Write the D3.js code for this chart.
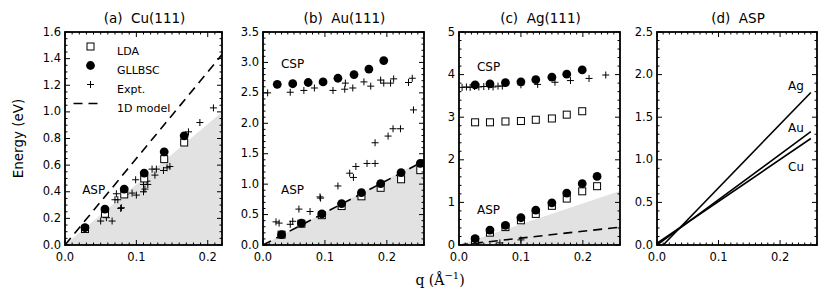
<!DOCTYPE html>
<html><head><meta charset="utf-8">
<script src="https://cdn.jsdelivr.net/npm/d3@7"></script>
<style>body{margin:0;background:#fff} text{font-family:"DejaVu Sans",sans-serif;fill:#000;white-space:pre}</style>
</head><body><svg id="c" width="830" height="301"></svg>
<script>
// ---------- data ----------
const titles = ["(a)  Cu(111)", "(b)  Au(111)", "(c)  Ag(111)", "(d)  ASP"];
const legendLabels = ["LDA", "GLLBSC", "Expt.", "1D model"];

// Cu(111)
const cuQ = [0.028, 0.056, 0.083, 0.111, 0.139, 0.167];
const cuGLLBSC = [0.13, 0.27, 0.42, 0.54, 0.70, 0.82];
const cuLDA = [0.12, 0.235, 0.38, 0.50, 0.645, 0.77];
const cuExpt = [[0.050,0.18],[0.058,0.205],[0.066,0.18],[0.070,0.34],[0.074,0.34],[0.078,0.275],[0.079,0.28],
  [0.072,0.385],[0.084,0.38],[0.094,0.39],[0.100,0.375],[0.110,0.40],[0.112,0.42],[0.099,0.49],[0.110,0.455],
  [0.116,0.455],[0.115,0.48],[0.122,0.57],[0.128,0.57],[0.126,0.525],[0.138,0.56],[0.143,0.58],[0.147,0.59],
  [0.173,0.85],[0.189,0.92],[0.208,1.03]];
const cuModel = [[0, 0], [0.22, 1.43]];
const cuContinuum = [[0, 0], [0.22, 1.0]];

// Au(111)
const auQ = [0.030, 0.062, 0.095, 0.127, 0.159, 0.190, 0.223, 0.254];
const auGLLBSC = [0.17, 0.36, 0.51, 0.68, 0.86, 1.01, 1.19, 1.34];
const auLDA = [0.17, 0.35, 0.49, 0.64, 0.80, 0.94, 1.08, 1.23];
const auCspQ = [0.023, 0.048, 0.073, 0.097, 0.121, 0.147, 0.171, 0.195];
const auCspGLLBSC = [2.64, 2.65, 2.67, 2.68, 2.74, 2.80, 2.89, 3.03];
const auExpt = [[0.0075,2.5],[0.044,2.51],[0.066,2.54],[0.083,2.58],[0.113,2.54],[0.132,2.56],[0.133,2.66],
  [0.145,2.58],[0.163,2.68],[0.174,2.61],[0.190,2.71],[0.195,2.66],[0.206,2.66],[0.211,2.73],[0.235,2.67],
  [0.241,2.74],[0.243,2.22],[0.181,1.68],[0.202,1.79],[0.210,1.91],[0.222,1.91],
  [0.021,0.38],[0.026,0.36],[0.044,0.34],[0.048,0.39],[0.058,0.59],[0.076,0.55],[0.092,0.79],[0.093,0.77],
  [0.121,0.97],[0.140,1.18],[0.146,1.11],[0.150,1.29],[0.168,1.34],[0.181,1.34]];
const auModel = [[0, 0], [0.26, 1.38]];
const auContinuum = [[0, 0], [0.26, 1.40]];

// Ag(111)
const agQ = [0.026, 0.050, 0.075, 0.100, 0.124, 0.150, 0.174, 0.199, 0.223];
const agGLLBSC = [0.15, 0.35, 0.46, 0.64, 0.82, 0.99, 1.22, 1.44, 1.61];
const agLDA = [0.115, 0.29, 0.42, 0.58, 0.73, 0.92, 1.09, 1.26, 1.38];
const agCspQ = [0.026, 0.050, 0.075, 0.100, 0.124, 0.150, 0.174, 0.199];
const agCspGLLBSC = [3.76, 3.78, 3.81, 3.83, 3.88, 3.94, 4.01, 4.11];
const agCspLDA = [2.88, 2.88, 2.90, 2.91, 2.94, 2.97, 3.06, 3.14];
const agExpt = [[0.005,3.70],[0.012,3.71],[0.018,3.70],[0.025,3.72],[0.032,3.71],[0.040,3.72],[0.048,3.72],
  [0.055,3.71],[0.063,3.73],[0.070,3.73],[0.100,3.76],[0.127,3.77],[0.155,3.82],[0.180,3.86],[0.210,3.91],[0.237,3.99],
  [0.066,0.05],[0.100,0.12]];
const agModel = [[0, 0], [0.26, 0.42]];
const agContinuum = [[0, 0], [0.26, 1.27]];

// ASP comparison
const aspLabels = ["Ag", "Au", "Cu"];
const aspLines = [[[0.010, 0], [0.25, 1.79]], [[0, 0], [0.25, 1.33]], [[0, 0.02], [0.25, 1.25]]];
const aspLabelPos = [[0.213, 1.86], [0.213, 1.37], [0.213, 0.915]];

// ---------- drawing ----------
const svg = d3.select("#c");
const yTop = 32, yBottom = 245;

const panels = [
  {left: 65, right: 222, xMax: 0.22, yMax: 1.6, yStep: 0.2, yMinor: 0.05, fmt: d3.format(".1f")},
  {left: 263, right: 424, xMax: 0.26, yMax: 3.5, yStep: 0.5, yMinor: 0.1, fmt: d3.format(".1f")},
  {left: 459, right: 620, xMax: 0.26, yMax: 5, yStep: 1, yMinor: 0.2, fmt: d3.format("d")},
  {left: 657, right: 817, xMax: 0.26, yMax: 2.5, yStep: 0.5, yMinor: 0.1, fmt: d3.format(".1f")}
];

const crossPath = "M-3.5,0H3.5M0,-3.5V3.5";

panels.forEach((p, i) => {
  const x = d3.scaleLinear().domain([0, p.xMax]).range([p.left, p.right]);
  const y = d3.scaleLinear().domain([0, p.yMax]).range([yBottom, yTop]);
  p.x = x; p.y = y;
  const g = svg.append("g");
  const clipId = "clip" + i;
  svg.append("clipPath").attr("id", clipId).append("rect")
    .attr("x", p.left).attr("y", yTop).attr("width", p.right - p.left).attr("height", yBottom - yTop);
  p.g = g;
  p.plot = g.append("g").attr("clip-path", `url(#${clipId})`);

  g.append("text").attr("x", (p.left + p.right) / 2 + 1).attr("y", 23).attr("text-anchor", "middle")
    .attr("xml:space", "preserve").style("font-size", "13.5px").text(titles[i]);

  const xMajor = d3.range(0, p.xMax + 1e-9, 0.1);
  const xMinor = d3.range(0, p.xMax + 1e-9, 0.01).filter(v => Math.abs(v * 10 - Math.round(v * 10)) > 1e-6);
  const yMajor = d3.range(0, p.yMax + 1e-9, p.yStep);
  const yMinor = d3.range(0, p.yMax + 1e-9, p.yMinor).filter(v => Math.abs(v / p.yStep - Math.round(v / p.yStep)) > 1e-6);
  p.ticks = {xMajor, xMinor, yMajor, yMinor};
});

function line(pts, p) {
  return d3.line().x(d => p.x(d[0])).y(d => p.y(d[1]))(pts);
}
function continuum(pts, p) {
  const poly = [pts[0], pts[1], [pts[1][0], 0]];
  p.plot.append("path").attr("d", line(poly, p) + "Z").attr("fill", "#e2e2e2").attr("stroke", "none");
}
function dashed(pts, p) {
  p.plot.append("path").attr("d", line(pts, p)).attr("fill", "none").attr("stroke", "#000")
    .attr("stroke-width", 1.6).attr("stroke-dasharray", "9,6");
}
function squares(qs, es, p) {
  p.plot.selectAll(null).data(qs.map((q, k) => [q, es[k]])).enter().append("rect")
    .attr("x", d => p.x(d[0]) - 3.5).attr("y", d => p.y(d[1]) - 3.5).attr("width", 7).attr("height", 7)
    .attr("fill", "#fff").attr("stroke", "#000").attr("stroke-width", 1);
}
function dots(qs, es, p) {
  p.plot.selectAll(null).data(qs.map((q, k) => [q, es[k]])).enter().append("circle")
    .attr("cx", d => p.x(d[0])).attr("cy", d => p.y(d[1])).attr("r", 4.4).attr("fill", "#000");
}
function crosses(pts, p) {
  p.plot.selectAll(null).data(pts).enter().append("path")
    .attr("transform", d => `translate(${p.x(d[0])},${p.y(d[1])})`)
    .attr("d", crossPath).attr("stroke", "#000").attr("stroke-width", 1).attr("fill", "none");
}
function label(txt, q, e, p) {
  p.g.append("text").attr("x", p.x(q)).attr("y", p.y(e)).attr("dominant-baseline", "middle")
    .style("font-size", "12px").text(txt);
}

// (a) Cu
const pa = panels[0];
continuum(cuContinuum, pa);
dashed(cuModel, pa);
crosses(cuExpt, pa);
squares(cuQ, cuLDA, pa);
dots(cuQ, cuGLLBSC, pa);
label("ASP", 0.024, 0.41, pa);

// (b) Au
const pb = panels[1];
continuum(auContinuum, pb);
dashed(auModel, pb);
crosses(auExpt, pb);
squares(auQ, auLDA, pb);
dots(auQ, auGLLBSC, pb);
dots(auCspQ, auCspGLLBSC, pb);
label("CSP", 0.029, 2.96, pb);
label("ASP", 0.029, 0.90, pb);

// (c) Ag
const pc = panels[2];
continuum(agContinuum, pc);
dashed(agModel, pc);
crosses(agExpt, pc);
squares(agQ, agLDA, pc);
dots(agQ, agGLLBSC, pc);
squares(agCspQ, agCspLDA, pc);
dots(agCspQ, agCspGLLBSC, pc);
label("CSP", 0.029, 4.17, pc);
label("ASP", 0.029, 0.82, pc);

// (d) ASP
const pd = panels[3];
aspLines.forEach((pts, k) => {
  pd.plot.append("path").attr("d", line(pts, pd)).attr("fill", "none").attr("stroke", "#000").attr("stroke-width", 1.6);
  label(aspLabels[k], aspLabelPos[k][0], aspLabelPos[k][1], pd);
});

// legend in (a)
{
  const lx = 90.5, tx = 117, ys = [46.5, 65.5, 84.5, 103.5];
  const g = pa.g;
  g.append("rect").attr("x", lx - 3.5).attr("y", ys[0] - 3.5).attr("width", 7).attr("height", 7)
    .attr("fill", "#fff").attr("stroke", "#000");
  g.append("circle").attr("cx", lx).attr("cy", ys[1]).attr("r", 4.4).attr("fill", "#000");
  g.append("path").attr("transform", `translate(${lx},${ys[2]})`).attr("d", crossPath).attr("stroke", "#000");
  g.append("path").attr("d", `M${lx - 17},${ys[3]}H${lx + 10}`).attr("stroke", "#000").attr("stroke-width", 1.6)
    .attr("stroke-dasharray", "9,6");
  legendLabels.forEach((t, k) => {
    g.append("text").attr("x", tx).attr("y", ys[k] + 5).attr("dominant-baseline", "middle")
      .style("font-size", "11px").text(t);
  });
}

// axes frames and ticks
panels.forEach(p => {
  const g = p.g, {xMajor, xMinor, yMajor, yMinor} = p.ticks;
  const tk = g.append("g").attr("stroke", "#000").attr("stroke-width", 1);
  xMajor.forEach(v => {
    tk.append("line").attr("x1", p.x(v)).attr("x2", p.x(v)).attr("y1", yBottom).attr("y2", yBottom - 5);
    tk.append("line").attr("x1", p.x(v)).attr("x2", p.x(v)).attr("y1", yTop).attr("y2", yTop + 5);
  });
  xMinor.forEach(v => {
    tk.append("line").attr("x1", p.x(v)).attr("x2", p.x(v)).attr("y1", yBottom).attr("y2", yBottom - 2.5);
    tk.append("line").attr("x1", p.x(v)).attr("x2", p.x(v)).attr("y1", yTop).attr("y2", yTop + 2.5);
  });
  yMajor.forEach(v => {
    tk.append("line").attr("x1", p.left).attr("x2", p.left + 5).attr("y1", p.y(v)).attr("y2", p.y(v));
    tk.append("line").attr("x1", p.right).attr("x2", p.right - 5).attr("y1", p.y(v)).attr("y2", p.y(v));
  });
  yMinor.forEach(v => {
    tk.append("line").attr("x1", p.left).attr("x2", p.left + 2.5).attr("y1", p.y(v)).attr("y2", p.y(v));
    tk.append("line").attr("x1", p.right).attr("x2", p.right - 2.5).attr("y1", p.y(v)).attr("y2", p.y(v));
  });
  g.append("rect").attr("x", p.left).attr("y", yTop).attr("width", p.right - p.left).attr("height", yBottom - yTop)
    .attr("fill", "none").attr("stroke", "#000").attr("stroke-width", 1.8);
  xMajor.forEach(v => {
    g.append("text").attr("x", p.x(v)).attr("y", yBottom + 16).attr("text-anchor", "middle")
      .style("font-size", "11.5px").text(d3.format(".1f")(v));
  });
  yMajor.forEach(v => {
    g.append("text").attr("x", p.left - 4).attr("y", p.y(v)).attr("text-anchor", "end")
      .attr("dominant-baseline", "middle").style("font-size", "11.5px").text(p.fmt(v));
  });
});

// axis labels
svg.append("text").attr("transform", `translate(23,${(yTop + yBottom) / 2}) rotate(-90)`)
  .attr("text-anchor", "middle").style("font-size", "13.5px").text("Energy (eV)");
const xl = svg.append("text").attr("x", 440).attr("y", 285).attr("text-anchor", "middle")
  .style("font-family", "'DejaVu Serif', serif").style("font-size", "14px");
xl.append("tspan").text("q (Å");
xl.append("tspan").attr("dy", -6).style("font-size", "10px").text("−1");
xl.append("tspan").attr("dy", 6).text(")");
</script></body></html>
